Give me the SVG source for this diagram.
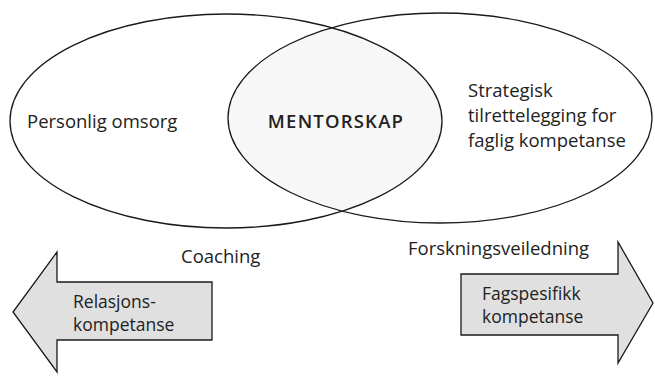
<svg xmlns="http://www.w3.org/2000/svg" width="655" height="376" viewBox="0 0 655 376">
  <defs>
    <clipPath id="clip-left">
      <ellipse cx="226" cy="121" rx="216" ry="107"/>
    </clipPath>
  </defs>
  <style>
    .shape { fill: none; stroke: #1a1a1a; stroke-width: 1.3; }
    .arrow { fill: #e0e0e0; stroke: #1a1a1a; stroke-width: 1.3; stroke-linejoin: miter; }
    .lbl { font-family: "Open Sans", "Noto Sans", sans-serif; font-size: 18.5px; fill: #222; }
    .small { font-size: 17.5px; }
    .bold { font-weight: 600; letter-spacing: 1.2px; }
  </style>
  <rect width="655" height="376" fill="#ffffff"/>

  <!-- shaded overlap of the two ellipses -->
  <g id="overlap">
    <ellipse cx="440" cy="118" rx="212" ry="105" fill="#f8f7f7" clip-path="url(#clip-left)"/>
  </g>

  <g id="node-left">
    <ellipse class="shape" cx="226" cy="121" rx="216" ry="107"/>
    <text class="lbl" x="27" y="128">Personlig omsorg</text>
  </g>

  <g id="node-right">
    <ellipse class="shape" cx="440" cy="118" rx="212" ry="105"/>
    <text class="lbl" x="468" y="97">Strategisk</text>
    <text class="lbl" x="468" y="122">tilrettelegging for</text>
    <text class="lbl" x="468" y="147">faglig kompetanse</text>
  </g>

  <g id="node-center">
    <text class="lbl bold" x="336" y="128" text-anchor="middle">MENTORSKAP</text>
  </g>

  <g id="connectors">
    <g id="arrow-left">
      <polygon class="arrow" points="212,282 57,282 57,252 13,312 57,372 57,340 212,340"/>
      <text class="lbl small" x="73" y="308">Relasjons-</text>
      <text class="lbl small" x="73" y="331">kompetanse</text>
    </g>
    <g id="arrow-right">
      <polygon class="arrow" points="461,274 618,274 618,242 653,303 618,363 618,335 461,335"/>
      <text class="lbl small" x="482" y="300">Fagspesifikk</text>
      <text class="lbl small" x="482" y="323">kompetanse</text>
    </g>
    <text class="lbl" x="181" y="263">Coaching</text>
    <text class="lbl" x="408" y="255">Forskningsveiledning</text>
  </g>
</svg>
